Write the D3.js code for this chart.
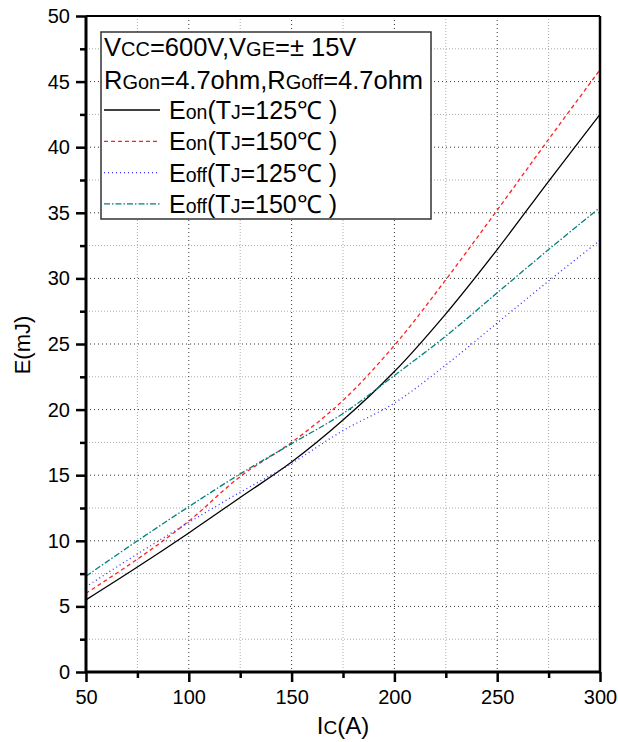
<!DOCTYPE html>
<html>
<head>
<meta charset="utf-8">
<script src="https://cdn.jsdelivr.net/npm/d3@7"></script>
<style>
  body { margin: 0; background: #fff; }
  text { font-family: Arial, "Liberation Sans", sans-serif; fill: #000; }
</style>
</head>
<body>
<svg id="chart"></svg>
<script>
const current = [50, 75, 100, 125, 150, 175, 200, 225, 250, 275, 300];
const eon125 = [5.5, 8.0, 10.6, 13.3, 16.0, 19.2, 22.9, 27.3, 32.2, 37.4, 42.5];
const eon150 = [6.0, 8.6, 11.5, 14.9, 17.5, 20.7, 24.9, 29.9, 35.2, 40.6, 45.9];
const eoff125 = [6.5, 9.0, 11.4, 13.7, 15.9, 18.4, 20.5, 23.4, 26.6, 29.8, 32.9];
const eoff150 = [7.3, 10.0, 12.6, 15.1, 17.4, 19.7, 22.6, 25.6, 28.9, 32.2, 35.4];
const xTicks = [50, 100, 150, 200, 250, 300];
const yTicks = [0, 5, 10, 15, 20, 25, 30, 35, 40, 45, 50];

const width = 618, height = 742;
const margin = { top: 16, right: 18, bottom: 70, left: 86 };
const w = width - margin.left - margin.right;
const h = height - margin.top - margin.bottom;

const svg = d3.select("#chart").attr("width", width).attr("height", height);
const g = svg.append("g").attr("transform", `translate(${margin.left},${margin.top})`);

const x = d3.scaleLinear().domain([50, 300]).range([0, w]);
const y = d3.scaleLinear().domain([0, 50]).range([h, 0]);

// grid: minor lighter, major darker
const xMinor = d3.range(75, 300, 50);
const yMinor = d3.range(2.5, 50, 5);
g.append("g").selectAll("line").data(xMinor).enter().append("line")
  .attr("x1", d => x(d)).attr("x2", d => x(d)).attr("y1", 0).attr("y2", h)
  .attr("stroke", "#aaa").attr("stroke-dasharray", "1,2");
g.append("g").selectAll("line").data(yMinor).enter().append("line")
  .attr("y1", d => y(d)).attr("y2", d => y(d)).attr("x1", 0).attr("x2", w)
  .attr("stroke", "#aaa").attr("stroke-dasharray", "1,2");
g.append("g").selectAll("line").data(xTicks.slice(1, -1)).enter().append("line")
  .attr("x1", d => x(d)).attr("x2", d => x(d)).attr("y1", 0).attr("y2", h)
  .attr("stroke", "#333").attr("stroke-dasharray", "1,3");
g.append("g").selectAll("line").data(yTicks.slice(1, -1)).enter().append("line")
  .attr("y1", d => y(d)).attr("y2", d => y(d)).attr("x1", 0).attr("x2", w)
  .attr("stroke", "#333").attr("stroke-dasharray", "1,3");

// curves
const series = [
  { values: eon125, color: "#000", dash: null },
  { values: eon150, color: "#ff2020", dash: "4,3" },
  { values: eoff125, color: "#3030ff", dash: "1,3" },
  { values: eoff150, color: "#008080", dash: "6,2,1.5,2" }
];
const line = d3.line().x(d => x(d[0])).y(d => y(d[1])).curve(d3.curveCatmullRom);
series.forEach(s => {
  g.append("path")
    .datum(current.map((c, i) => [c, s.values[i]]))
    .attr("fill", "none")
    .attr("stroke", s.color)
    .attr("stroke-width", 1.3)
    .attr("stroke-dasharray", s.dash)
    .attr("d", line);
});

// axes
g.append("g").attr("transform", `translate(0,${h})`)
  .call(d3.axisBottom(x).tickValues(xTicks).tickSize(10).tickPadding(8));
g.append("g").attr("transform", `translate(0,${h})`)
  .call(d3.axisBottom(x).tickValues(xMinor).tickSize(6).tickFormat(""));
g.append("g")
  .call(d3.axisLeft(y).tickValues(yTicks).tickSize(10).tickPadding(6));
g.append("g")
  .call(d3.axisLeft(y).tickValues(yMinor).tickSize(6).tickFormat(""));
g.selectAll(".domain").remove();
g.selectAll(".tick line").attr("stroke", "#000").attr("stroke-width", 2.5);
g.selectAll(".tick text").style("font-size", "20px").attr("fill", "#000");

// frame
g.append("line").attr("x1", 0).attr("x2", w).attr("y1", h).attr("y2", h).attr("stroke", "#000").attr("stroke-width", 3);
g.append("line").attr("x1", 0).attr("x2", 0).attr("y1", 0).attr("y2", h).attr("stroke", "#000").attr("stroke-width", 3);
g.append("line").attr("x1", 0).attr("x2", w).attr("y1", 0).attr("y2", 0).attr("stroke", "#000").attr("stroke-width", 2);
g.append("line").attr("x1", w).attr("x2", w).attr("y1", 0).attr("y2", h).attr("stroke", "#000").attr("stroke-width", 2.5);

// axis titles
function richText(sel, parts, big, small) {
  parts.forEach((p, i) => {
    sel.append("tspan").style("font-size", (i % 2 ? small : big) + "px").text(p);
  });
  return sel;
}
richText(svg.append("text").attr("x", 343).attr("y", 734).attr("text-anchor", "middle"),
  ["I", "C", "(A)"], 24, 19);
svg.append("text").attr("transform", "translate(30,345) rotate(-90)")
  .attr("text-anchor", "middle").style("font-size", "22px").text("E(mJ)");

// legend
const legend = svg.append("g");
legend.append("rect").attr("x", 101).attr("y", 32).attr("width", 330).attr("height", 187)
  .attr("fill", "#fff").attr("stroke", "#333").attr("stroke-width", 1.5);
richText(legend.append("text").attr("x", 104).attr("y", 56),
  ["V", "CC", "=600V,V", "GE", "=± 15V"], 25.5, 20);
richText(legend.append("text").attr("x", 104).attr("y", 89),
  ["R", "Gon", "=4.7ohm,R", "Goff", "=4.7ohm"], 25.5, 20);
const entries = [
  ["E", "on", "(T", "J", "=125℃ )"],
  ["E", "on", "(T", "J", "=150℃ )"],
  ["E", "off", "(T", "J", "=125℃ )"],
  ["E", "off", "(T", "J", "=150℃ )"]
];
entries.forEach((e, i) => {
  const cy = 110 + i * 31.3;
  legend.append("line").attr("x1", 104).attr("x2", 160).attr("y1", cy).attr("y2", cy)
    .attr("stroke", series[i].color).attr("stroke-width", 1.3)
    .attr("stroke-dasharray", series[i].dash);
  richText(legend.append("text").attr("x", 169).attr("y", cy + 9), e, 25, 19.5);
});
</script>
</body>
</html>
